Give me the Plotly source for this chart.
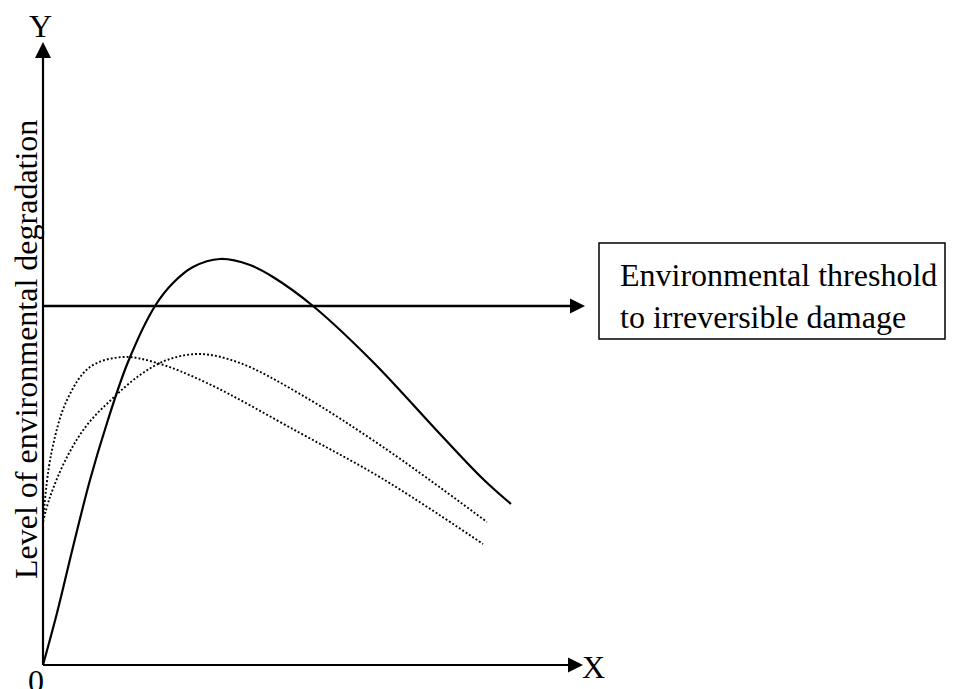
import plotly.graph_objects as go

# ---- data (arbitrary units, origin at the axes' corner) ----
solid_x = [0, 14, 30, 47, 64, 85, 112, 130, 150, 177, 207, 230, 270, 330, 397, 440, 468]
solid_y = [0, 52, 118, 185, 242, 303, 359, 382, 398, 406, 400, 388, 359, 303, 231, 186, 161]

dotA_x = [0, 8, 24, 47, 80, 114, 164, 257, 340, 440]
dotA_y = [143, 210, 265, 298, 308, 302, 282, 232, 186, 121]

dotB_x = [0, 7, 24, 44, 69, 97, 124, 157, 197, 257, 340, 444]
dotB_y = [143, 168, 208, 240, 266, 290, 305, 311, 302, 271, 218, 143]

threshold_level = 359
threshold_end = 542
x_axis_end = 540
y_axis_end = 623

y_title = "Level of environmental degradation"
box_text = "Environmental threshold<br>to irreversible damage"

FONT = "Liberation Serif"
PAGE_W, PAGE_H = 956, 689
OFF = 8  # default page margin around the plot div
W, H = PAGE_W - OFF, PAGE_H - OFF
X0, Y0 = 43 - OFF, 665 - OFF  # origin position inside the figure


def px(x):  # page-pixel x -> data x
    return x - OFF - X0


def py(y):  # page-pixel y -> data y
    return Y0 - (y - OFF)


fig = go.Figure()

# axes lines
fig.add_trace(go.Scatter(x=[0, 0], y=[0, y_axis_end - 12], mode="lines",
                         line=dict(color="black", width=2.2), hoverinfo="skip"))
fig.add_trace(go.Scatter(x=[0, x_axis_end - 12], y=[0, 0], mode="lines",
                         line=dict(color="black", width=2.2), hoverinfo="skip"))
# threshold line
fig.add_trace(go.Scatter(x=[0, threshold_end - 12], y=[threshold_level, threshold_level], mode="lines",
                         line=dict(color="black", width=2.4), hoverinfo="skip"))
# arrowheads
fig.add_trace(go.Scatter(x=[0], y=[y_axis_end], mode="markers",
                         marker=dict(symbol="arrow-up", size=16, color="black", line=dict(width=0)),
                         hoverinfo="skip"))
fig.add_trace(go.Scatter(x=[x_axis_end, threshold_end], y=[0, threshold_level], mode="markers",
                         marker=dict(symbol="arrow-right", size=15, color="black", line=dict(width=0)),
                         hoverinfo="skip"))

# curves
fig.add_trace(go.Scatter(x=solid_x, y=solid_y, mode="lines",
                         line=dict(color="black", width=2.2, shape="spline", smoothing=1.0),
                         hoverinfo="skip"))
fig.add_trace(go.Scatter(x=dotA_x, y=dotA_y, mode="lines",
                         line=dict(color="black", width=1.9, dash="1.9px,2.1px", shape="spline", smoothing=1.0),
                         hoverinfo="skip"))
fig.add_trace(go.Scatter(x=dotB_x, y=dotB_y, mode="lines",
                         line=dict(color="black", width=1.9, dash="1.9px,2.1px", shape="spline", smoothing=1.0),
                         hoverinfo="skip"))

# box around threshold label (right edge kept just inside the visible area)
fig.add_shape(type="rect", x0=px(599), x1=px(945), y0=py(339), y1=py(243),
              line=dict(color="black", width=1.5), fillcolor="rgba(0,0,0,0)")

annotations = [
    dict(x=px(618), y=py(296), text=box_text, xanchor="left", yanchor="middle", align="left"),
    dict(x=px(26), y=py(350), text=y_title, textangle=-90, xanchor="center", yanchor="middle"),
    dict(x=px(40), y=py(26), text="Y", xanchor="center", yanchor="middle"),
    dict(x=px(593), y=py(667), text="X", xanchor="center", yanchor="middle"),
    dict(x=px(36), y=py(681), text="0", xanchor="center", yanchor="middle"),
]
for a in annotations:
    a.update(showarrow=False, xref="x", yref="y", font=dict(family=FONT, size=32, color="black"))

fig.update_layout(
    width=W, height=H,
    margin=dict(l=0, r=0, t=0, b=0),
    paper_bgcolor="white", plot_bgcolor="white",
    showlegend=False,
    annotations=annotations,
    xaxis=dict(range=[-X0, W - X0], visible=False, fixedrange=True),
    yaxis=dict(range=[Y0 - H, Y0], visible=False, fixedrange=True),
)

fig.write_html("out.html")
